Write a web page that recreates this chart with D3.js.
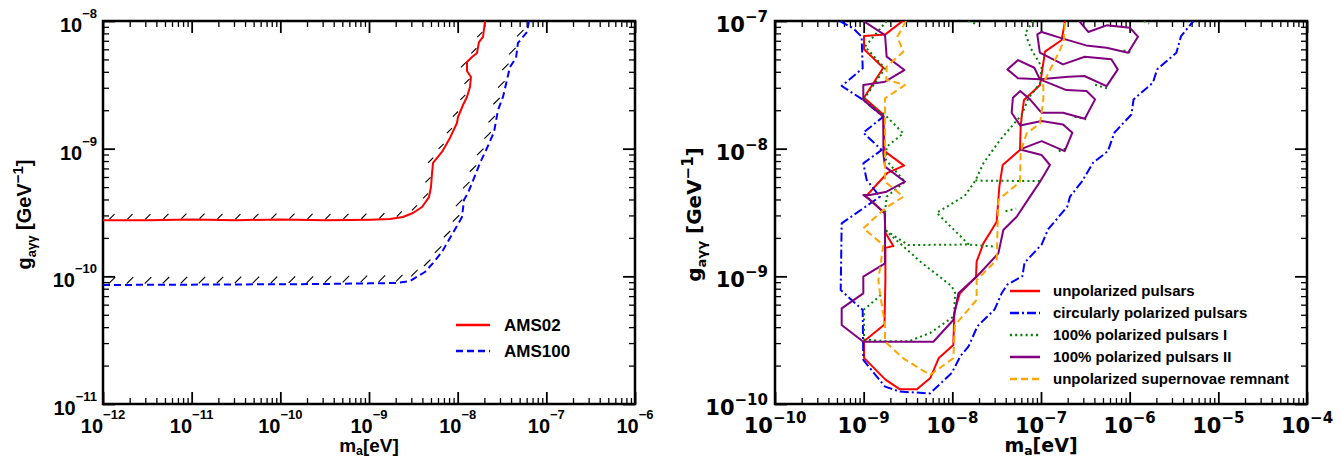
<!DOCTYPE html>
<html>
<head>
<meta charset="utf-8">
<script src="https://cdn.jsdelivr.net/npm/d3@7"></script>
<style>
  body { margin: 0; background: #fff; }
  svg text { font-weight: bold; fill: #000; }
</style>
</head>
<body>
<div id="chart"></div>
<script>
// ---------------------------- DATA ----------------------------//
// every point is [log10(m_a / eV), log10(g_agg / GeV^-1)]

// left panel
const ams02 = [[-12, -9.56], [-11.5, -9.56], [-11, -9.555], [-10.5, -9.56], [-10, -9.555], [-9.5, -9.56],
  [-9.2, -9.558], [-8.989, -9.556], [-8.763, -9.551], [-8.617, -9.535], [-8.504, -9.504], [-8.402, -9.457],
  [-8.323, -9.379], [-8.301, -9.3], [-8.289, -9.191], [-8.278, -9.112], [-8.177, -9.026], [-8.087, -8.916],
  [-8.008, -8.799], [-7.996, -8.752], [-7.94, -8.658], [-7.895, -8.595], [-7.861, -8.517], [-7.85, -8.439],
  [-7.895, -8.392], [-7.895, -8.321], [-7.838, -8.282], [-7.782, -8.251], [-7.76, -8.165], [-7.714, -8.125],
  [-7.692, -8.0]];
const ams100 = [[-12, -10.068], [-11, -10.065], [-10, -10.062], [-9.5, -10.06], [-8.989, -10.055],
  [-8.684, -10.052], [-8.538, -10.037], [-8.369, -9.966], [-8.278, -9.896], [-8.177, -9.809], [-8.087, -9.7],
  [-8.008, -9.606], [-7.951, -9.535], [-7.929, -9.402], [-7.884, -9.347], [-7.793, -9.191], [-7.748, -9.112],
  [-7.669, -8.995], [-7.59, -8.87], [-7.545, -8.697], [-7.489, -8.595], [-7.444, -8.462], [-7.41, -8.36],
  [-7.342, -8.29], [-7.32, -8.172], [-7.218, -8.086], [-7.196, -8.0]];
const leftNames = ['AMS02', 'AMS100'];

// right panel
const unpolarized = [[-8.56, -7.0], [-8.755, -7.105], [-8.996, -7.118], [-8.996, -7.222], [-8.779, -7.366],
  [-8.996, -7.601], [-8.779, -7.732], [-8.765, -8.019], [-8.545, -8.133], [-8.731, -8.189], [-8.972, -8.372],
  [-8.765, -8.502], [-8.755, -8.659], [-8.665, -8.763], [-8.755, -8.777], [-8.755, -9.025], [-8.765, -9.378],
  [-8.996, -9.508], [-8.996, -9.639], [-8.755, -9.809], [-8.59, -9.885], [-8.4, -9.885], [-8.248, -9.796],
  [-8.152, -9.639], [-7.989, -9.538], [-7.977, -9.277], [-7.914, -9.133], [-7.733, -9.003], [-7.726, -8.885],
  [-7.65, -8.742], [-7.556, -8.637], [-7.5, -8.572], [-7.47, -8.298], [-7.432, -8.128], [-7.237, -8.01],
  [-7.229, -7.828], [-7.218, -7.749], [-7.192, -7.619], [-7.011, -7.501], [-6.955, -7.24], [-6.767, -7.149],
  [-6.729, -7.0]];
const circular = [[-9.27, -7.0], [-9.117, -7.058], [-9.023, -7.123], [-9.011, -7.371], [-9.248, -7.509],
  [-9.004, -7.619], [-8.778, -7.749], [-9.004, -7.875], [-8.797, -8.01], [-9.004, -8.115], [-8.966, -8.245],
  [-8.816, -8.376], [-9.248, -8.585], [-9.259, -9.107], [-9.011, -9.264], [-9.004, -9.655], [-8.759, -9.864],
  [-8.59, -9.903], [-8.252, -9.917], [-8.007, -9.757], [-7.91, -9.626], [-7.817, -9.548], [-7.717, -9.391],
  [-7.524, -9.26], [-7.444, -9.133], [-7.379, -9.064], [-7.21, -8.999], [-7.186, -8.894], [-6.993, -8.751],
  [-6.921, -8.633], [-6.704, -8.454], [-6.673, -8.376], [-6.535, -8.254], [-6.414, -8.111], [-6.245, -8.019],
  [-6.173, -7.875], [-5.98, -7.732], [-5.956, -7.614], [-5.738, -7.483], [-5.69, -7.379], [-5.473, -7.248],
  [-5.42, -7.118], [-5.28, -7.0]];
const polarizedI = [
  [[-8.74, -7.0], [-8.985, -7.201], [-8.759, -7.371], [-9.004, -7.619], [-8.759, -7.736], [-8.553, -7.88],
    [-8.741, -7.984], [-8.748, -8.089], [-8.534, -8.259], [-8.741, -8.376], [-8.759, -8.507], [-8.759, -8.637],
    [-8.496, -8.755], [-7.814, -8.751], [-7.48, -8.77]],
  [[-8.759, -8.637], [-8.345, -8.894], [-8.007, -9.077], [-7.968, -9.13], [-7.983, -9.313], [-8.248, -9.443],
    [-8.489, -9.508], [-8.755, -9.508], [-8.996, -9.495], [-8.996, -9.26], [-8.779, -9.13]],
  [[-7.814, -8.751], [-8.176, -8.502], [-7.86, -8.37], [-7.74, -8.25], [-7.65, -8.115], [-7.462, -7.932],
    [-7.35, -7.841], [-7.218, -7.736], [-7.143, -7.606], [-7.011, -7.488], [-6.993, -7.358], [-7.105, -7.227],
    [-7.18, -7.097], [-7.086, -7.0]],
  [[-7.74, -8.25], [-6.993, -8.254]],
  [[-7.4, -8.49], [-7.28, -8.47]],
  [[-6.8, -8.02], [-6.72, -8.0]],
  [[-6.62, -7.75], [-6.49, -7.77]],
  [[-6.39, -7.5], [-6.24, -7.53]],
  [[-6.07, -7.23], [-5.98, -7.25]],
  [[-5.84, -7.0], [-5.78, -7.02]],
  [[-7.82, -7.0], [-7.74, -7.02]]];
const polarizedII = [[-9.004, -7.0], [-8.759, -7.11], [-8.741, -7.279], [-8.541, -7.384], [-8.759, -7.475],
  [-9.004, -7.501], [-9.004, -7.619], [-8.778, -7.749], [-8.778, -8.037], [-8.759, -8.141], [-8.534, -8.259],
  [-8.741, -8.337], [-8.929, -8.363], [-9.004, -8.363], [-8.929, -8.402], [-8.759, -8.507], [-8.759, -8.898],
  [-9.004, -9.003], [-9.004, -9.133], [-9.248, -9.251], [-9.248, -9.381], [-9.004, -9.512], [-8.214, -9.512],
  [-7.989, -9.342], [-7.932, -9.133], [-7.726, -9.003], [-7.481, -8.82], [-7.425, -8.637], [-7.274, -8.533],
  [-7.124, -8.376], [-7.011, -8.259], [-6.899, -8.128], [-6.992, -8.05], [-7.235, -8.006], [-6.993, -7.941],
  [-6.733, -8.019], [-6.646, -7.875], [-6.752, -7.81], [-6.993, -7.784], [-7.235, -7.818], [-7.331, -7.719],
  [-7.317, -7.601], [-7.235, -7.549], [-7.124, -7.614], [-6.993, -7.719], [-6.752, -7.719], [-6.506, -7.766],
  [-6.39, -7.614], [-6.486, -7.549], [-6.713, -7.541], [-7.013, -7.457], [-7.259, -7.449], [-7.379, -7.379],
  [-7.259, -7.306], [-7.075, -7.366], [-7.013, -7.457], [-6.689, -7.436], [-6.511, -7.431], [-6.26, -7.51],
  [-6.134, -7.379], [-6.207, -7.3], [-6.506, -7.28], [-6.752, -7.34], [-7.013, -7.248], [-7.042, -7.105],
  [-6.993, -7.086], [-6.752, -7.138], [-6.491, -7.191], [-6.26, -7.209], [-6.018, -7.248], [-5.907, -7.123],
  [-5.999, -7.052], [-6.26, -7.034], [-6.467, -7.086], [-6.569, -7.0]];
const supernova = [[-8.523, -7.0], [-8.62, -7.123], [-8.553, -7.24], [-8.741, -7.358], [-8.745, -7.46],
  [-8.534, -7.501], [-8.759, -7.606], [-8.759, -8.024], [-8.759, -8.259], [-8.553, -8.376], [-8.759, -8.468],
  [-9.004, -8.624], [-8.778, -8.755], [-8.835, -9.029], [-8.816, -9.133], [-8.759, -9.381], [-8.759, -9.512],
  [-8.553, -9.642], [-8.252, -9.773], [-7.989, -9.642], [-7.97, -9.381], [-7.726, -9.185], [-7.726, -9.029],
  [-7.5, -8.872], [-7.481, -8.402], [-7.237, -8.259], [-7.229, -8.024], [-7.162, -7.88], [-7.011, -7.802],
  [-6.974, -7.619], [-6.974, -7.488], [-6.786, -7.227], [-6.741, -7.149], [-6.729, -7.0]];
const rightNames = ['unpolarized pulsars', 'circularly polarized pulsars', '100% polarized pulsars I',
  '100% polarized pulsars II', 'unpolarized supernovae remnant'];

const leftXExp = [-12, -11, -10, -9, -8, -7, -6];
const leftYExp = [-11, -10, -9, -8];
const rightXExp = [-10, -9, -8, -7, -6, -5, -4];
const rightYExp = [-10, -9, -8, -7];

// ---------------------------- SETUP ----------------------------//
const width = 1341;
const height = 460;
const plotTop = 21;
const plotBottom = 404;
const ARIAL = "'Liberation Sans', Arial, sans-serif";
const DEJAVU = "'DejaVu Sans', sans-serif";

const svg = d3.select('#chart').append('svg')
  .attr('width', width)
  .attr('height', height);

const toPts = arr => arr.map(d => [10 ** d[0], 10 ** d[1]]);
const isPow = v => Math.abs(Math.log10(v) - Math.round(Math.log10(v))) < 1e-6;

function panel(cfg) {
  const g = svg.append('g');
  const x = d3.scaleLog().domain([10 ** cfg.xExp[0], 10 ** cfg.xExp[cfg.xExp.length - 1]]).range([cfg.left, cfg.right]);
  const y = d3.scaleLog().domain([10 ** cfg.yExp[0], 10 ** cfg.yExp[cfg.yExp.length - 1]]).range([plotBottom, plotTop]);

  const xMajor = cfg.xExp.map(e => 10 ** e);
  const yMajor = cfg.yExp.map(e => 10 ** e);
  const xMinor = x.ticks().filter(v => !isPow(v));
  const yMinor = y.ticks().filter(v => !isPow(v));

  // ----------------------------- AXES ------------------------------//
  const axes = [
    [d3.axisBottom(x), `translate(0,${plotBottom})`, xMajor, xMinor],
    [d3.axisTop(x), `translate(0,${plotTop})`, xMajor, xMinor],
    [d3.axisLeft(y), `translate(${cfg.left},0)`, yMajor, yMinor],
    [d3.axisRight(y), `translate(${cfg.right},0)`, yMajor, yMinor],
  ];
  axes.forEach(([ax, tr, maj, min]) => {
    [[maj, 12, 1.8], [min, 6, 1.3]].forEach(([vals, len, sw]) => {
      const a = g.append('g')
        .attr('transform', tr)
        .call(ax.tickValues(vals).tickSize(-len).tickFormat(''));
      a.select('.domain').remove();
      a.selectAll('line').attr('stroke', '#000').attr('stroke-width', sw);
    });
  });

  g.append('rect')
    .attr('x', cfg.left).attr('y', plotTop)
    .attr('width', cfg.right - cfg.left).attr('height', plotBottom - plotTop)
    .attr('fill', 'none').attr('stroke', '#000').attr('stroke-width', 2.5);

  // ------------------------- TICK LABELS ---------------------------//
  const lab = cfg.labels;
  const xl = g.selectAll('.xl').data(xMajor).enter().append('text')
    .attr('x', d => x(d)).attr('y', lab.xBase)
    .attr('text-anchor', 'middle')
    .style('font-family', lab.font);
  xl.append('tspan').style('font-size', `${lab.size}px`).text('10');
  xl.append('tspan').style('font-size', `${lab.sup}px`).attr('dy', -lab.lift)
    .text(d => `\u2212${Math.abs(Math.round(Math.log10(d)))}`);

  const yl = g.selectAll('.yl').data(yMajor).enter().append('text')
    .attr('x', cfg.left - lab.yGap).attr('y', d => y(d) + 11)
    .attr('text-anchor', 'end')
    .style('font-family', lab.font);
  yl.append('tspan').style('font-size', `${lab.size}px`).text('10');
  yl.append('tspan').style('font-size', `${lab.sup}px`).attr('dy', -lab.lift)
    .text(d => `\u2212${Math.abs(Math.round(Math.log10(d)))}`);

  // --------------------------- TITLES ------------------------------//
  const cx = (cfg.left + cfg.right) / 2;
  const xt = g.append('text')
    .attr('x', cx).attr('y', 452)
    .attr('text-anchor', 'middle')
    .style('font-family', cfg.titleFont).style('font-size', `${cfg.titleSize - 1}px`);
  xt.append('tspan').text('m');
  xt.append('tspan').attr('dy', 3).style('font-size', `${cfg.titleSize * 0.62}px`).text('a');
  xt.append('tspan').attr('dy', -3).text('[eV]');

  const yt = g.append('text')
    .attr('transform', `translate(${cfg.yTitleX},${(plotTop + plotBottom) / 2 + 2}) rotate(-90)`)
    .attr('text-anchor', 'middle')
    .style('font-family', cfg.titleFont).style('font-size', `${cfg.titleSize}px`);
  yt.append('tspan').text('g');
  yt.append('tspan').attr('dy', 5).style('font-size', `${cfg.titleSize * 0.65}px`).text('a\u03b3\u03b3');
  yt.append('tspan').attr('dy', -5).text(' [GeV');
  yt.append('tspan').attr('dy', -8).style('font-size', `${cfg.titleSize * 0.75}px`).text('\u22121');
  yt.append('tspan').attr('dy', 8).text(']');

  // --------------------------- LINES -------------------------------//
  const clipId = `clip${cfg.left}`;
  svg.append('clipPath').attr('id', clipId).append('rect')
    .attr('x', cfg.left).attr('y', plotTop)
    .attr('width', cfg.right - cfg.left).attr('height', plotBottom - plotTop);
  const plot = g.append('g').attr('clip-path', `url(#${clipId})`);
  const line = d3.line().x(d => x(d[0])).y(d => y(d[1]));

  cfg.series.forEach(s => {
    const parts = Array.isArray(s.data[0][0]) ? s.data : [s.data];
    parts.forEach(p => {
      plot.append('path')
        .attr('d', line(toPts(p)))
        .attr('fill', 'none')
        .attr('stroke', s.color)
        .attr('stroke-width', s.width || 2)
        .attr('stroke-dasharray', s.dash || null)
        .attr('stroke-linejoin', 'round');
    });
    if (s.hatch) {
      const scr = toPts(s.data).map(d => [x(d[0]), y(d[1])]);
      hatchMarks(scr, s.hatch.step, s.hatch.len).forEach(m => {
        plot.append('line')
          .attr('x1', m[0]).attr('y1', m[1]).attr('x2', m[2]).attr('y2', m[3])
          .attr('stroke', '#000').attr('stroke-width', 1.1);
      });
    }
  });

  // --------------------------- LEGEND ------------------------------//
  const lg = cfg.legend;
  cfg.series.forEach((s, i) => {
    const ly = lg.y + i * lg.gap;
    g.append('line')
      .attr('x1', lg.x).attr('x2', lg.x + lg.len).attr('y1', ly).attr('y2', ly)
      .attr('stroke', s.color).attr('stroke-width', 2.5)
      .attr('stroke-dasharray', s.dash || null);
    g.append('text')
      .attr('x', lg.x + lg.len + lg.pad).attr('y', ly).attr('dy', '0.36em')
      .style('font-family', lg.font).style('font-size', `${lg.size}px`)
      .text(s.name);
  });
}

// short "/" strokes on the excluded side of a curve, in screen space
function hatchMarks(pts, step, len) {
  const out = [];
  let t = step / 2;
  for (let i = 1; i < pts.length; i++) {
    const [ax, ay] = pts[i - 1];
    const [bx, by] = pts[i];
    const L = Math.hypot(bx - ax, by - ay);
    if (!L) continue;
    const ux = (bx - ax) / L;
    const uy = (by - ay) / L;
    while (t <= L) {
      const cx = ax + ux * t + uy * (len / 2);
      const cy = ay + uy * t - ux * (len / 2);
      const h = len * 0.36;
      out.push([cx - h, cy + h, cx + h, cy - h]);
      t += step;
    }
    t -= L;
  }
  return out;
}

panel({
  left: 103, right: 635, xExp: leftXExp, yExp: leftYExp,
  labels: { font: ARIAL, size: 20, sup: 13, lift: 14, xBase: 433, yGap: 6 },
  titleFont: ARIAL, titleSize: 20, yTitleX: 31,
  legend: { x: 456, y: 325, gap: 26, len: 34, pad: 14, font: ARIAL, size: 17 },
  series: [
    { name: leftNames[0], data: ams02, color: '#ff0000', width: 2, hatch: { step: 18, len: 7 } },
    { name: leftNames[1], data: ams100, color: '#0000ff', width: 2, dash: '7,4', hatch: { step: 18, len: 9 } },
  ],
});

panel({
  left: 775, right: 1307, xExp: rightXExp, yExp: rightYExp,
  labels: { font: DEJAVU, size: 21, sup: 15, lift: 10, xBase: 433, yGap: 7 },
  titleFont: DEJAVU, titleSize: 20, yTitleX: 701,
  legend: { x: 1010, y: 291, gap: 22, len: 30, pad: 13, font: ARIAL, size: 15 },
  series: [
    { name: rightNames[0], data: unpolarized, color: '#ff0000', width: 2 },
    { name: rightNames[1], data: circular, color: '#0000ff', width: 2, dash: '9,3,2,3' },
    { name: rightNames[2], data: polarizedI, color: '#008000', width: 2, dash: '2,3.2' },
    { name: rightNames[3], data: polarizedII, color: '#800080', width: 2 },
    { name: rightNames[4], data: supernova, color: '#ffa500', width: 2, dash: '7,4' },
  ],
});
</script>
</body>
</html>
